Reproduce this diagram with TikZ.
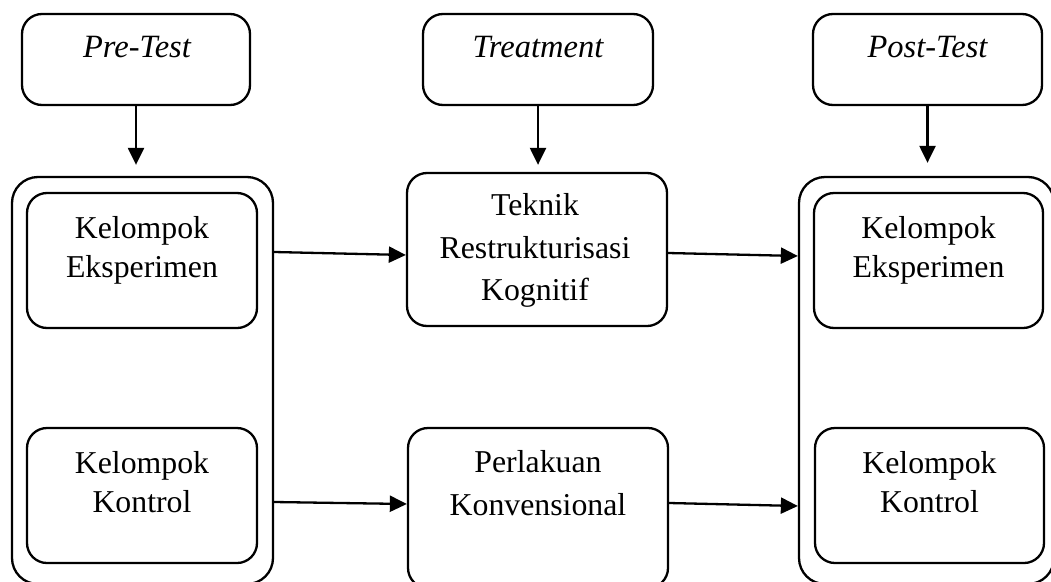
\documentclass[tikz,border=0pt]{standalone}
\usepackage{fontspec}
\setmainfont{Liberation Serif}
\usetikzlibrary{arrows.meta}
\begin{document}
\begin{tikzpicture}[x=1pt,y=-1pt,
  box/.style={draw, line width=2.3pt, rounded corners=20pt, inner sep=0pt},
  cont/.style={draw, line width=2.3pt, rounded corners=26pt, inner sep=0pt},
  txt/.style={anchor=north, inner sep=0pt, align=center, font=\fontsize{31.8}{38.5}\selectfont},
  txtm/.style={anchor=north, inner sep=0pt, align=center, font=\fontsize{31.8}{42.5}\selectfont},
  txti/.style={anchor=north, inner sep=0pt, align=center, font=\fontsize{32.5}{38.5}\selectfont\itshape},
  arr/.style={line width=2.3pt, -{Triangle[length=17pt,width=16pt]}}]
\useasboundingbox (0,0) rectangle (1051,581);
% top boxes
\node[box, minimum width=228pt, minimum height=91pt] (pre) at (136,59.5) {};
\node[box, minimum width=230pt, minimum height=91pt] (treat) at (538,59.5) {};
\node[box, minimum width=229pt, minimum height=91pt] (post) at (927.5,59.5) {};
\node[txti] (pret) at (137,35.8) {Pre-Test};
\node[txti] (treatt) at (538,35.8) {Treatment};
\node[txti] (postt) at (927.5,35.8) {Post-Test};
% containers
\node[cont, minimum width=261pt, minimum height=407pt] (leftc) at (142.5,380.5) {};
\node[cont, minimum width=255pt, minimum height=407pt] (rightc) at (926.5,380.5) {};
% inner boxes
\node[box, minimum width=230pt, minimum height=135pt] (lu) at (142,260.5) {};
\node[box, minimum width=230pt, minimum height=135pt] (ll) at (142,495.5) {};
\node[box, minimum width=229pt, minimum height=135pt] (ru) at (928.5,260.5) {};
\node[box, minimum width=229pt, minimum height=135pt] (rl) at (929.5,495.5) {};
\node[box, minimum width=260pt, minimum height=153pt] (teknik) at (537,249.5) {};
\node[box, minimum width=260pt, minimum height=160pt] (perl) at (538,508) {};
% texts
\node[txt] (lut) at (142,216.3) {Kelompok\\Eksperimen};
\node[txt] (llt) at (142,451.3) {Kelompok\\Kontrol};
\node[txt] (rut) at (928.5,216.3) {Kelompok\\Eksperimen};
\node[txt] (rlt) at (929.5,451.3) {Kelompok\\Kontrol};
\node[txtm] (tekt) at (535,193.3) {Teknik\\Restrukturisasi\\Kognitif};
\node[txtm] (perlt) at (538,450.3) {Perlakuan\\Konvensional};
% arrows
\draw[arr, shorten >=11pt] (pre.south) -- (pre.south |- leftc.north);
\draw[arr, shorten >=7pt] (treat.south) -- (treat.south |- teknik.north);
\draw[arr, shorten >=13pt] (post.south) -- (post.south |- rightc.north);
\draw[arr] (leftc.east |- 0,252) -- (teknik.west |- 0,255);
\draw[arr] (teknik.east |- 0,253) -- (rightc.west |- 0,256);
\draw[arr] (leftc.east |- 0,502) -- (perl.west |- 0,504);
\draw[arr] (perl.east |- 0,503) -- (rightc.west |- 0,506);
\end{tikzpicture}
\end{document}
